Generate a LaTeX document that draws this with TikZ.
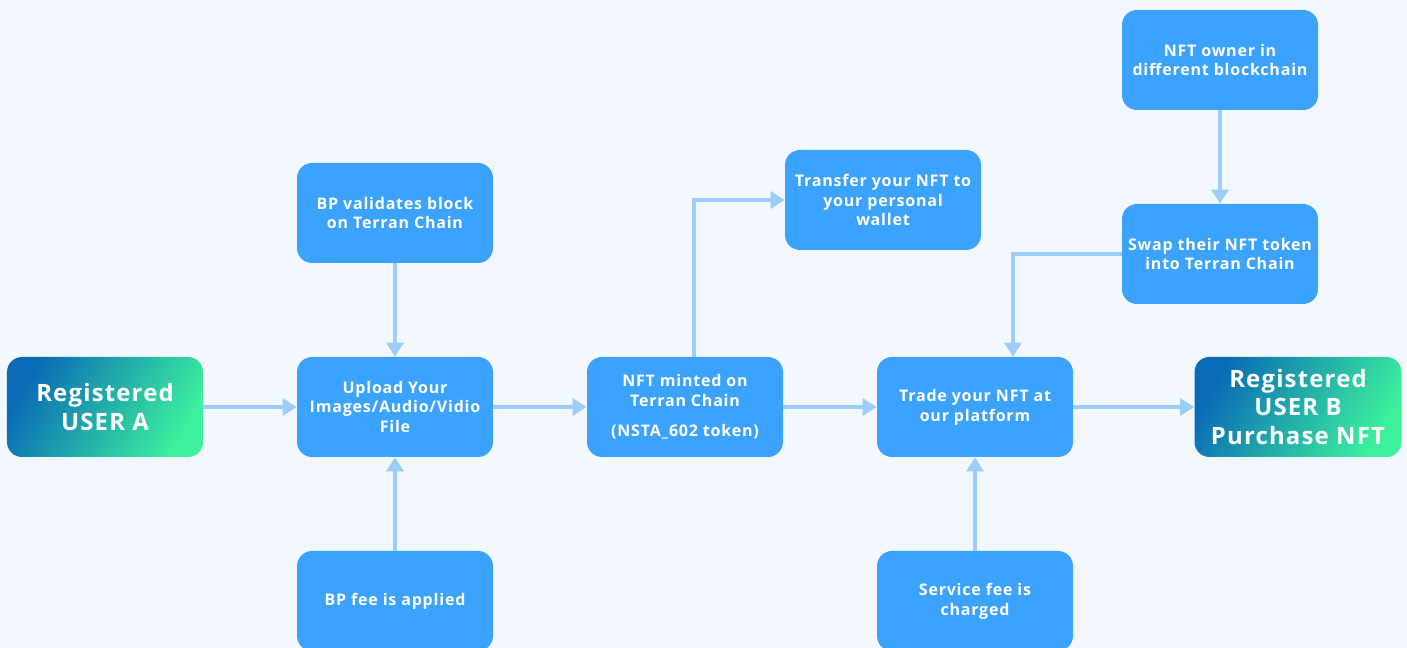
\documentclass[tikz,border=0pt]{standalone}
\usepackage{fontspec}
\setmainfont{Open Sans}[BoldFont={* Bold},LetterSpace=5]
\usetikzlibrary{arrows.meta}

\definecolor{bgcol}{HTML}{F3F8FE}
\definecolor{boxcol}{HTML}{3BA3FE}
\definecolor{arrcol}{HTML}{9DCDFC}
\definecolor{gradA}{HTML}{0A6CB6}
\definecolor{gradB}{HTML}{3CF09C}

\tikzset{
  stepbox/.style={rectangle,rounded corners=3mm,fill=boxcol,text=white,
    minimum width=39.2mm,minimum height=20mm,align=center,
    font=\fontsize{9.1}{11.3}\selectfont\bfseries},
  userbox/.style={rectangle,rounded corners=3mm,left color=gradA,right color=gradB,
    shading angle=60,text=white,minimum width=39.2mm,minimum height=20mm,align=center,
    font=\fontsize{13.6}{16.4}\selectfont\bfseries},
  flow/.style={draw=arrcol,line width=0.8mm,-{Triangle[length=2.8mm,width=3.4mm]}}
}

\begin{document}
\begin{tikzpicture}[x=0.2mm,y=-0.2mm]
    \fill[bgcol] (0,0) rectangle (1407,648);
    \useasboundingbox (0,0) rectangle (1407,648);
    %boxes
    \node (usera) at (105,407) [userbox] {Registered\\USER A};
    \node (upload) at (395,407) [stepbox] {Upload Your\\Images/Audio/Vidio\\File};
    \node (validate) at (395,213) [stepbox] {BP validates block\\on Terran Chain};
    \node (bpfee) at (395,601) [stepbox] {BP fee is applied};
    \node (minted) at (685,407) [stepbox] {NFT minted on\\Terran Chain\\[6pt](NSTA\_602 token)};
    \node (transfer) at (883,200) [stepbox] {Transfer your NFT to\\your personal\\wallet};
    \node (trade) at (975,407) [stepbox] {Trade your NFT at\\our platform};
    \node (service) at (975,601) [stepbox] {Service fee is\\charged};
    \node (owner) at (1220,60) [stepbox] {NFT owner in\\different blockchain};
    \node (swap) at (1220,254) [stepbox] {Swap their NFT token\\into Terran Chain};
    \node (userb) at (1298,407) [userbox,minimum width=41.4mm] {Registered\\USER B\\Purchase NFT};

    %connectors
    \draw [flow] (usera) -- (upload);
    \draw [flow] (validate) -- (upload);
    \draw [flow] (bpfee) -- (upload);
    \draw [flow] (upload) -- (minted);
    \draw [flow] ([xshift=1.8mm]minted.north) |- (transfer.west);
    \draw [flow] (minted) -- (trade);
    \draw [flow] (owner) -- (swap);
    \draw [flow] (swap.west) -| ([xshift=7.6mm]trade.north);
    \draw [flow] (service) -- (trade);
    \draw [flow] (trade) -- (userb);
\end{tikzpicture}
\end{document}
